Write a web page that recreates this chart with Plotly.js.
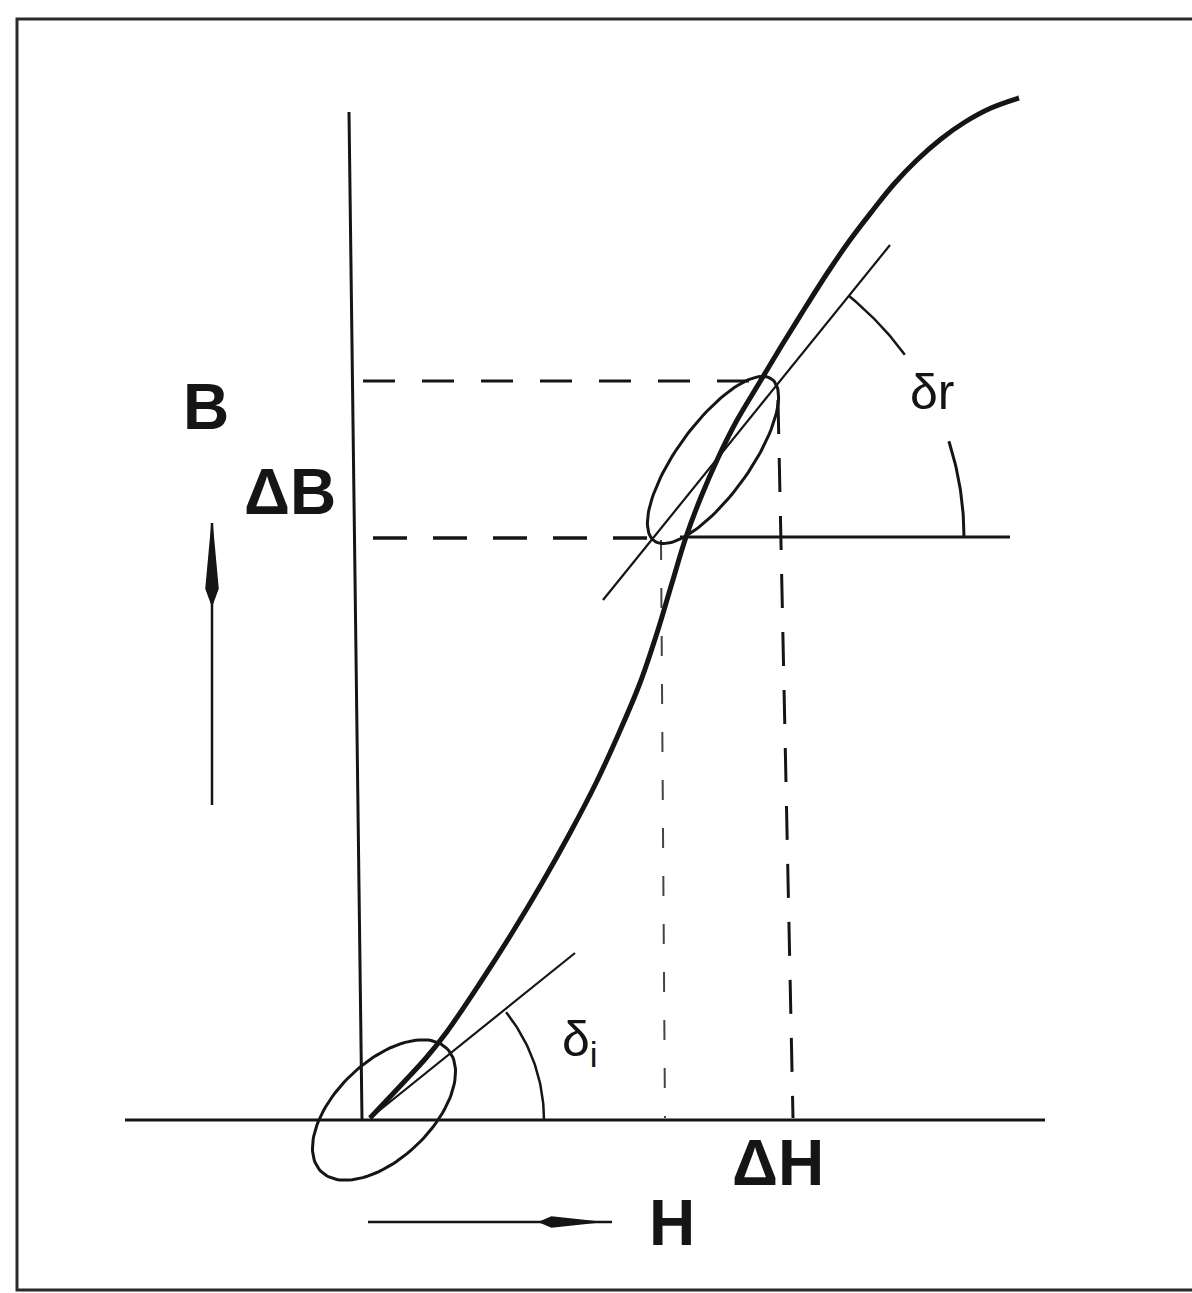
<!DOCTYPE html>
<html>
<head>
<meta charset="utf-8">
<script src="https://cdn.plot.ly/plotly-3.0.1.min.js"></script>
<style>
  html, body { margin: 0; padding: 0; background: #fff; }
  #chart { width: 1192px; height: 1293px; }
</style>
</head>
<body>
<div id="chart"></div>
<script>
// Initial magnetisation curve B(H) (H right, B up, origin at axis corner)
const curveH = [8, 41, 64, 84, 118, 150, 180, 208, 234, 257, 278, 295, 310, 324, 339, 356, 374, 396,
                420, 443, 466, 488, 511, 532, 555, 579, 603, 629, 657];
const curveB = [2, 37, 62, 87, 137, 187, 237, 287, 337, 387, 437, 487, 537, 583, 623, 662, 698, 735,
                775, 812, 848, 880, 910, 936, 960, 981, 998, 1012, 1022];

// tangents (initial and reversible permeability)
const tanInitH = [8, 213];
const tanInitB = [2, 167];
const tanRevH = [241, 528];
const tanRevB = [520, 875];

// axes
const axisBH = [-13, 0];
const axisBB = [1008, 0];
const axisHH = [-237, 683];
const axisHB = [0, 0];

// delta-B / delta-H construction
const dashTopH = [1, 402];
const dashTopB = [739, 739];
const dashLowH = [11, 293];
const dashLowB = [582, 582];
const baseRevH = [318, 648];
const baseRevB = [583, 583];
const dashLeftH = [299, 303];
const dashLeftB = [580, 2];
const dashRightH = [416, 431];
const dashRightB = [720, 2];

// direction arrows: shaft ends and spear tip
const arrowBH = [-150, -150];
const arrowBB = [315, 597];
const arrowHH = [6, 250];
const arrowHB = [-102, -102];

// minor loops: [centre H, centre B, semi-major, semi-minor, tilt deg]
const loopLow = [22, 10, 88, 48, 44];
const loopHigh = [351, 660, 100, 36, 54];

// angle arcs: [centre H, centre B, radius, from deg, to deg]
const arcInit = [10, 0, 172, 0, 38.8];
const arcRevA = [292, 583, 310, 36, 51];
const arcRevB = [292, 583, 310, 0, 18];

const ink = '#151515';

function ellipsePts(p) {
    const [cx, cy, a, b, tilt] = p;
    const t = tilt * Math.PI / 180;
    const x = [], y = [];
    for (let i = 0; i <= 120; i++) {
        const s = i / 120 * Math.PI * 2;
        const u = a * Math.cos(s), v = b * Math.sin(s);
        x.push(cx + u * Math.cos(t) - v * Math.sin(t));
        y.push(cy + u * Math.sin(t) + v * Math.cos(t));
    }
    return { x, y };
}

function arcPts(p) {
    const [cx, cy, r, a0, a1] = p;
    const x = [], y = [];
    for (let i = 0; i <= 40; i++) {
        const a = (a0 + (a1 - a0) * i / 40) * Math.PI / 180;
        x.push(cx + r * Math.cos(a));
        y.push(cy + r * Math.sin(a));
    }
    return { x, y };
}

// narrow spear-shaped arrow head, pointing along (dx, dy) from the tip backwards
function spear(tx, ty, dx, dy, len, half) {
    const px = -dy, py = dx;
    return {
        x: [tx, tx - dx * len * 0.8 + px * half, tx - dx * len, tx - dx * len * 0.8 - px * half, tx],
        y: [ty, ty - dy * len * 0.8 + py * half, ty - dy * len, ty - dy * len * 0.8 - py * half, ty],
        mode: 'lines', fill: 'toself', fillcolor: ink, hoverinfo: 'skip',
        line: { color: ink, width: 1.5 }
    };
}

function line(x, y, width, extra) {
    return Object.assign({
        x: x, y: y, mode: 'lines', hoverinfo: 'skip',
        line: { color: ink, width: width }
    }, extra || {});
}

const eLow = ellipsePts(loopLow);
const eHigh = ellipsePts(loopHigh);
const aInit = arcPts(arcInit);
const aRevA = arcPts(arcRevA);
const aRevB = arcPts(arcRevB);

const traces = [
    line(axisBH, axisBB, 3),
    line(axisHH, axisHB, 3),
    line(dashTopH, dashTopB, 3, { line: { color: ink, width: 3, dash: '32px,27px' } }),
    line(dashLowH, dashLowB, 3.5, { line: { color: ink, width: 3.5, dash: '34px,26px' } }),
    line(dashLeftH, dashLeftB, 2, { line: { color: '#444', width: 2, dash: '20px,28px' } }),
    line(dashRightH, dashRightB, 3, { line: { color: ink, width: 3, dash: '34px,24px' } }),
    line(baseRevH, baseRevB, 3),
    line(tanInitH, tanInitB, 2.2),
    line(tanRevH, tanRevB, 2.2),
    line(aInit.x, aInit.y, 2.5),
    line(aRevA.x, aRevA.y, 2.5),
    line(aRevB.x, aRevB.y, 3),
    line(eLow.x, eLow.y, 3),
    line(eHigh.x, eHigh.y, 3),
    line(arrowBH, arrowBB, 2.5),
    line(arrowHH, arrowHB, 2.5),
    spear(arrowBH[1], arrowBB[1], 0, 1, 82, 6),
    spear(arrowHH[1] - 14, arrowHB[1], 1, 0, 58, 5),
    {
        x: curveH, y: curveB, mode: 'lines', hoverinfo: 'skip',
        line: { color: ink, width: 5, shape: 'spline', smoothing: 1 }
    }
];

const bold = { family: 'Liberation Sans, Arial, sans-serif', size: 64, color: ink };
const thin = { family: 'Liberation Sans, Arial, sans-serif', size: 50, color: ink };

const annotations = [
    { x: -156, y: 713, text: '<b>B</b>', font: bold, showarrow: false },
    { x: -72, y: 628, text: '<b>ΔB</b>', font: bold, showarrow: false },
    { x: 416, y: -43, text: '<b>ΔH</b>', font: bold, showarrow: false },
    { x: 310, y: -103, text: '<b>H</b>', font: bold, showarrow: false },
    { x: 570, y: 728, text: 'δr', font: thin, showarrow: false },
    { x: 218, y: 78, text: 'δ<sub>i</sub>', font: thin, showarrow: false }
];

const layout = {
    width: 1192,
    height: 1293,
    margin: { l: 0, r: 0, t: 0, b: 0 },
    paper_bgcolor: '#fff',
    plot_bgcolor: '#fff',
    showlegend: false,
    xaxis: { range: [-362, 830], visible: false, fixedrange: true },
    yaxis: { range: [-173, 1120], visible: false, fixedrange: true },
    annotations: annotations,
    shapes: [
        {
            type: 'rect', xref: 'x', yref: 'y',
            x0: -345, y0: 1101, x1: 860, y1: -170,
            line: { color: '#2a2a2a', width: 3 }
        }
    ]
};

Plotly.newPlot('chart', traces, layout, { displayModeBar: false, staticPlot: true });
</script>
</body>
</html>
